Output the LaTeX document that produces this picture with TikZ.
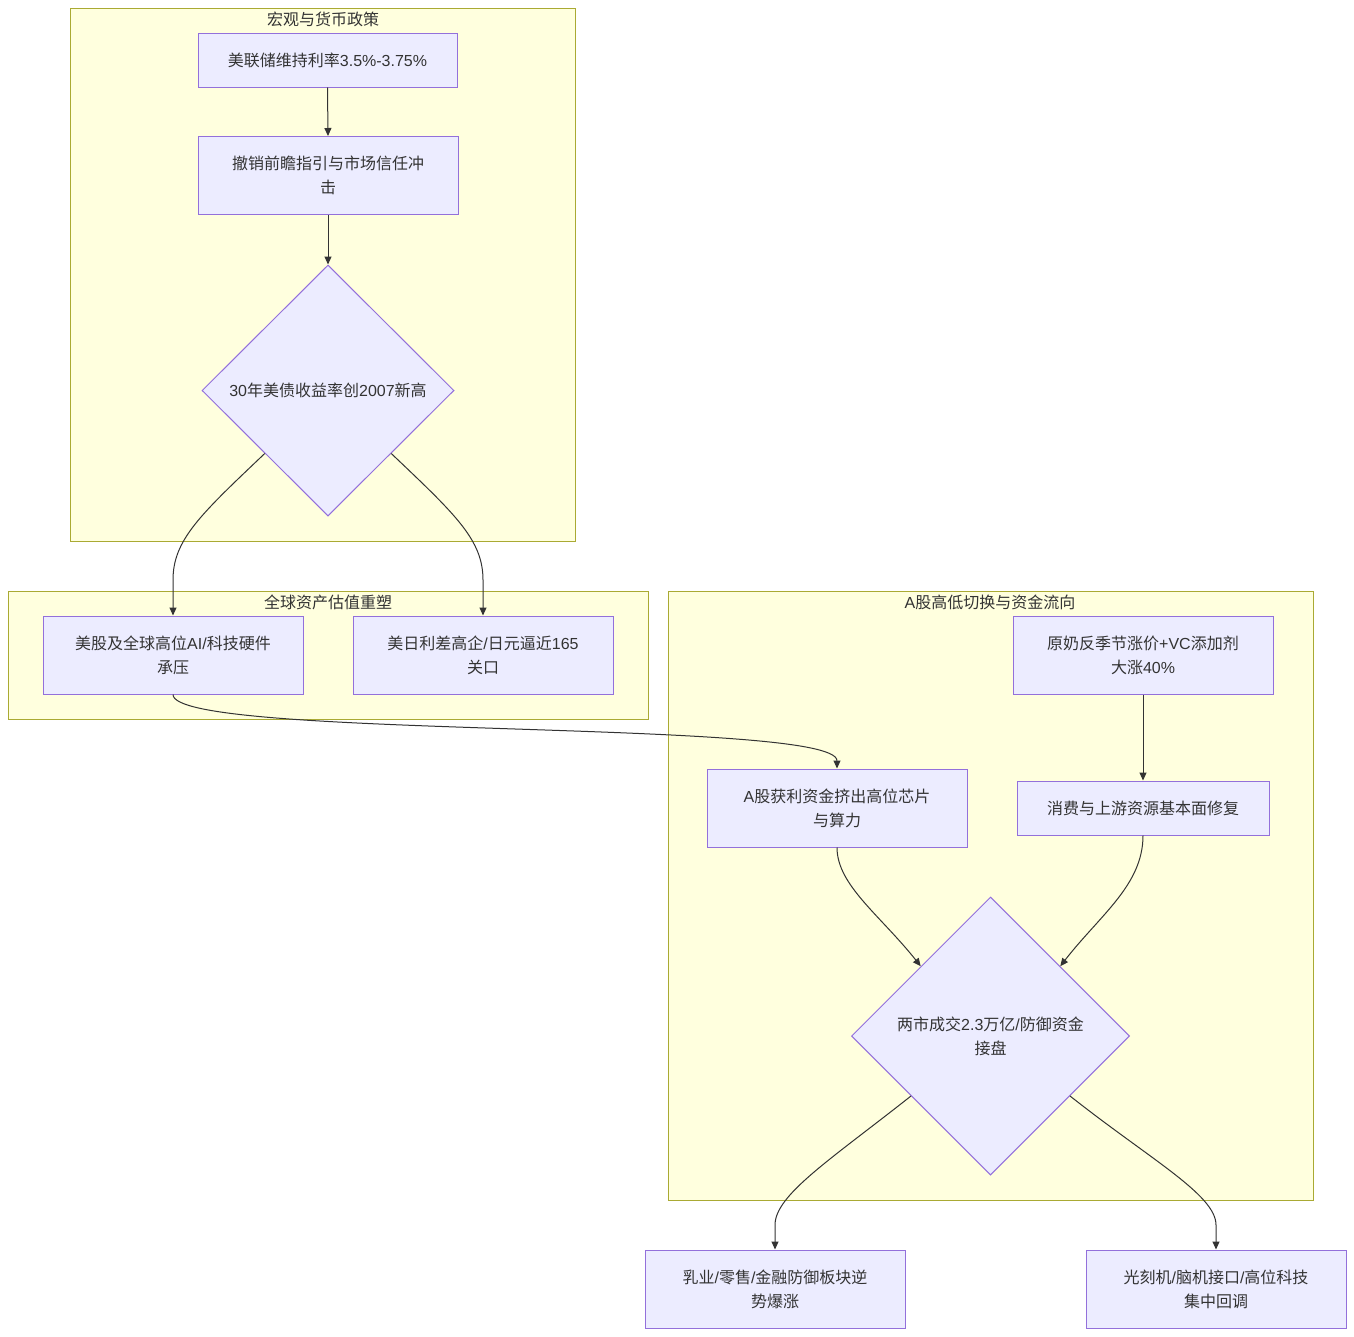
\documentclass[tikz,border=0pt]{standalone}
\usepackage{fontspec}
\setmainfont{Liberation Sans}
\newfontfamily\cjk{Noto Sans CJK SC}
\usetikzlibrary{shapes.geometric,arrows.meta,calc}
\definecolor{clfill}{HTML}{FFFFDE}
\definecolor{clline}{HTML}{AAAA33}
\definecolor{ndfill}{HTML}{ECECFF}
\definecolor{ndline}{HTML}{9370DB}
\definecolor{txt}{HTML}{333333}
\tikzset{
  cluster/.style={draw=clline, fill=clfill, line width=1pt, inner sep=0pt},
  cltitle/.style={text=txt, font=\fontsize{16}{20}\selectfont, anchor=center, inner sep=0pt},
  box/.style={draw=ndline, fill=ndfill, line width=1pt, rectangle, inner sep=0pt,
    minimum width=260pt, text=txt, align=center, font=\fontsize{16}{24}\selectfont},
  dia/.style={draw=ndline, fill=ndfill, line width=1pt, diamond, inner sep=0pt,
    text=txt, align=center, font=\fontsize{16}{24}\selectfont},
  arr/.style={draw=txt, line width=1pt, -{Triangle[length=8pt,width=7pt]}}
}
\begin{document}
\begin{tikzpicture}[x=1pt,y=-1pt]
\useasboundingbox[fill=white] (0,0) rectangle (1354,1336);
% clusters
\node[cluster, minimum width=505pt, minimum height=533pt] (S1) at (322.5,274.5) {};
\node[cltitle] (S1t) at (323,19) {\cjk 宏观与货币政策};
\node[cluster, minimum width=640pt, minimum height=128pt] (S2) at (328,655) {};
\node[cltitle] (S2t) at (328,602) {\cjk 全球资产估值重塑};
\node[cluster, minimum width=645pt, minimum height=609pt] (S3) at (990.5,895.5) {};
\node[cltitle] (S3t) at (990,602) {A{\cjk 股高低切换与资金流向}};
% nodes
\node[box, minimum width=259pt, minimum height=54pt] (A) at (327.5,60) {{\cjk 美联储维持利率}3.5\%-3.75\%};
\node[box, minimum height=78pt] (B) at (328,175.5) {{\cjk 撤销前瞻指引与市场信任冲}\\{\cjk 击}};
\node[dia, minimum width=252pt, minimum height=251pt] (C) at (328,390.5) {30{\cjk 年美债收益率创}2007{\cjk 新高}};
\node[box, minimum height=78pt] (D) at (173,655) {{\cjk 美股及全球高位}AI/{\cjk 科技硬件}\\{\cjk 承压}};
\node[box, minimum height=78pt] (E) at (483,655) {{\cjk 美日利差高企}/{\cjk 日元逼近}165\\{\cjk 关口}};
\node[box, minimum height=78pt] (F) at (1143,655) {{\cjk 原奶反季节涨价}+VC{\cjk 添加剂}\\{\cjk 大涨}40\%};
\node[box, minimum width=252pt, minimum height=54pt] (G) at (1143,808) {\cjk 消费与上游资源基本面修复};
\node[box, minimum height=78pt] (H) at (837,808) {A{\cjk 股获利资金挤出高位芯片}\\{\cjk 与算力}};
\node[dia, minimum width=278pt, minimum height=278pt] (I) at (990.5,1036) {{\cjk 两市成交}2.3{\cjk 万亿}/{\cjk 防御资金}\\{\cjk 接盘}};
\node[box, minimum height=78pt] (J) at (775,1289) {{\cjk 乳业}/{\cjk 零售}/{\cjk 金融防御板块逆}\\{\cjk 势爆涨}};
\node[box, minimum height=78pt] (K) at (1216,1289) {{\cjk 光刻机}/{\cjk 脑机接口}/{\cjk 高位科技}\\{\cjk 集中回调}};
% edges
\draw[arr] (A.south) -- (B.north);
\draw[arr] (B.south) -- (C.north);
\draw[arr] (C.south west) .. controls (200,515) and (173,540) .. (173,580) -- (D.north);
\draw[arr] (C.south east) .. controls (456,515) and (483,540) .. (483,580) -- (E.north);
\draw[arr] (D.south) .. controls (173,740) and (837,718) .. (H.north);
\draw[arr] (F.south) -- (G.north);
\draw[arr] (H.south) .. controls (837,885) and (880,915) .. (I.north west);
\draw[arr] (G.south) .. controls (1143,885) and (1100,915) .. (I.north east);
\draw[arr] ($(I.west)!0.43!(I.south)$) .. controls (830,1160) and (775,1195) .. (775,1225) -- (J.north);
\draw[arr] ($(I.east)!0.43!(I.south)$) .. controls (1151,1160) and (1216,1195) .. (1216,1225) -- (K.north);
\end{tikzpicture}
\end{document}
